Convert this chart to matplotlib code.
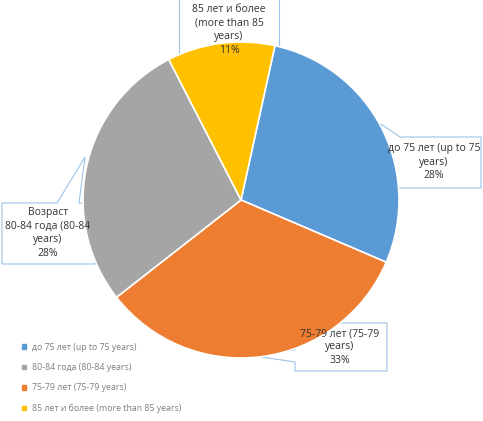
import matplotlib
matplotlib.use("Agg")
import matplotlib.pyplot as plt
from matplotlib.patches import Patch, Polygon

plt.rcParams['font.family'] = ['Open Sans', 'DejaVu Sans']

# slices in clockwise drawing order
labels = ["до 75 лет (up to 75 years)", "75-79 лет (75-79 years)",
          "80-84 года (80-84 years)", "85 лет и более (more than 85 years)"]
values = [28, 33, 28, 11]
colors = ["#5B9BD5", "#ED7D31", "#A5A5A5", "#FFC000"]
box_texts = ["до 75 лет (up to 75\nyears)\n28%",
             "75-79 лет (75-79\nyears)\n33%",
             "Возраст\n80-84 года (80-84\nyears)\n28%",
             "85 лет и более\n(more than 85\nyears)\n11%"]
legend_order = [0, 2, 1, 3]

W, H = 483, 421
CX, CY, R = 241, 200, 158

fig = plt.figure(figsize=(W / 100, H / 100), dpi=100)
ax = fig.add_axes([(CX - R) / W, (H - CY - R) / H, 2 * R / W, 2 * R / H])
ax.pie(values, colors=colors, startangle=77.6, counterclock=False,
       wedgeprops=dict(edgecolor="white", linewidth=1.2, zorder=2))
ax.set_xlim(-1, 1)
ax.set_ylim(-1, 1)
ax.set_aspect("equal")
ax.axis("off")


def to_data(px, py):
    return (px - CX) / R, (CY - py) / R


# callout outlines (pixel coords) and text centres
callouts = [
    [(386, 150), (381, 124), (400, 137), (481, 137), (481, 188), (386, 188)],
    [(295, 323), (387, 323), (387, 371), (295, 371), (295, 362), (248, 355), (295, 350)],
    [(2, 203), (57, 203), (85, 157), (79, 203), (95, 203), (95, 264), (2, 264)],
    [(179, -2), (279, -2), (279, 60), (179, 60)],
]
text_pos = [(434, 162), (340, 347), (48, 233), (229, 30)]

for outline, (tx, ty), txt in zip(callouts, text_pos, box_texts):
    ax.add_patch(Polygon([to_data(*p) for p in outline], closed=True,
                         fc="white", ec="#9DC3E6", lw=0.8, zorder=1, clip_on=False))
    x, y = to_data(tx, ty)
    ax.text(x, y, txt, ha="center", va="center", fontsize=7.5, color="#333333",
            linespacing=1.3, clip_on=False, zorder=4)

handles = [Patch(color=colors[i], label=labels[i]) for i in legend_order]
fig.legend(handles=handles, loc="lower left", bbox_to_anchor=(0.03, 0.0),
           frameon=False, fontsize=6.3, labelcolor="#7F7F7F",
           handlelength=0.45, handleheight=0.45, labelspacing=1.3, handletextpad=0.7)

fig.savefig("out.png", dpi=100)
